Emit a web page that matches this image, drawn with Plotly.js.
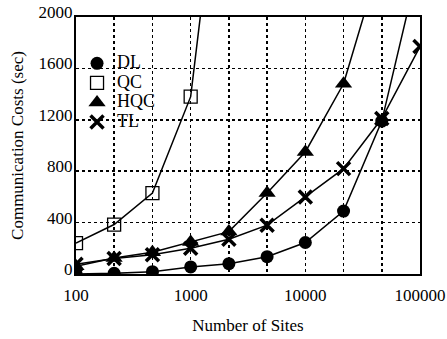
<!DOCTYPE html>
<html><head><meta charset="utf-8">
<script src="https://cdn.plot.ly/plotly-3.0.1.min.js"></script>
<style>html,body{margin:0;padding:0;background:#fff;}#chart{width:447px;height:339px;}</style>
</head><body><div id="chart"></div>
<script>
// Data
var sites = [100, 215, 464, 1000, 2154, 4642, 10000, 21544, 46416, 100000];
var seriesNames = ['DL', 'QC', 'HQC', 'TL'];
var dl  = [0, 5, 18, 55, 80, 135, 245, 490, 1190, 2450];
var qc  = [240, 385, 630, 1380, 3850];
var hqc = [60, 125, 170, 250, 330, 630, 950, 1480, 2480];
var tl  = [75, 120, 150, 200, 270, 380, 600, 820, 1210, 1770];
var xTickText = ['100', '', '', '1000', '', '', '10000', '', '', '100000'];
var yTicks = [0, 400, 800, 1200, 1600, 2000];

var values = [dl, qc, hqc, tl];
var markers = [
  {symbol: 'circle', size: 13, color: '#000'},
  {symbol: 'square-open', size: 13, color: '#000', line: {width: 1.3, color: '#000'}},
  {symbol: 'triangle-up', size: 15, color: '#000'},
  {symbol: 'x-thin-open', size: 13, color: '#000', line: {width: 3.5, color: '#000'}}
];
var font = 'Liberation Serif, Times New Roman, serif';
var traces = [];
values.forEach(function (v, i) {
  traces.push({x: sites.slice(0, v.length), y: v, mode: 'lines', type: 'scatter',
    line: {color: '#000', width: 1.5}, showlegend: false, hoverinfo: 'skip'});
});
values.forEach(function (v, i) {
  traces.push({x: sites.slice(0, v.length), y: v, mode: 'markers', type: 'scatter',
    name: '<span style="font-size:18px">' + seriesNames[i] + '</span>',
    marker: markers[i], showlegend: true});
});

var layout = {
  width: 447, height: 339,
  margin: {l: 76, r: 27, t: 17, b: 65},
  paper_bgcolor: '#fff', plot_bgcolor: '#fff',
  font: {family: font, size: 17, color: '#000'},
  showlegend: true,
  legend: {x: 0.003, y: 0.877, xanchor: 'left', yanchor: 'top', bgcolor: 'rgba(0,0,0,0)',
    font: {family: font, size: 12.7, color: '#000'}, tracegroupgap: 0},
  xaxis: {type: 'log', range: [2, 5], tickmode: 'array', tickvals: sites, ticktext: xTickText,
    showgrid: true, gridcolor: '#000', griddash: 'dot', gridwidth: 1.5,
    showline: true, linecolor: '#000', linewidth: 2, mirror: true, ticks: '',
    ticklabelstandoff: 5, zeroline: false,
    title: {text: 'Number of Sites', font: {family: font, size: 17}, standoff: 15}},
  yaxis: {range: [0, 2000], tickmode: 'array', tickvals: yTicks,
    showgrid: true, gridcolor: '#000', griddash: 'dot', gridwidth: 1.5,
    showline: true, linecolor: '#000', linewidth: 2, mirror: true, ticks: '',
    ticklabelshift: -5, ticklabelstandoff: -2, zeroline: false,
    title: {text: 'Communication Costs (sec)', font: {family: font, size: 17}, standoff: 11}}
};
Plotly.newPlot('chart', traces, layout, {staticPlot: true});
</script></body></html>
